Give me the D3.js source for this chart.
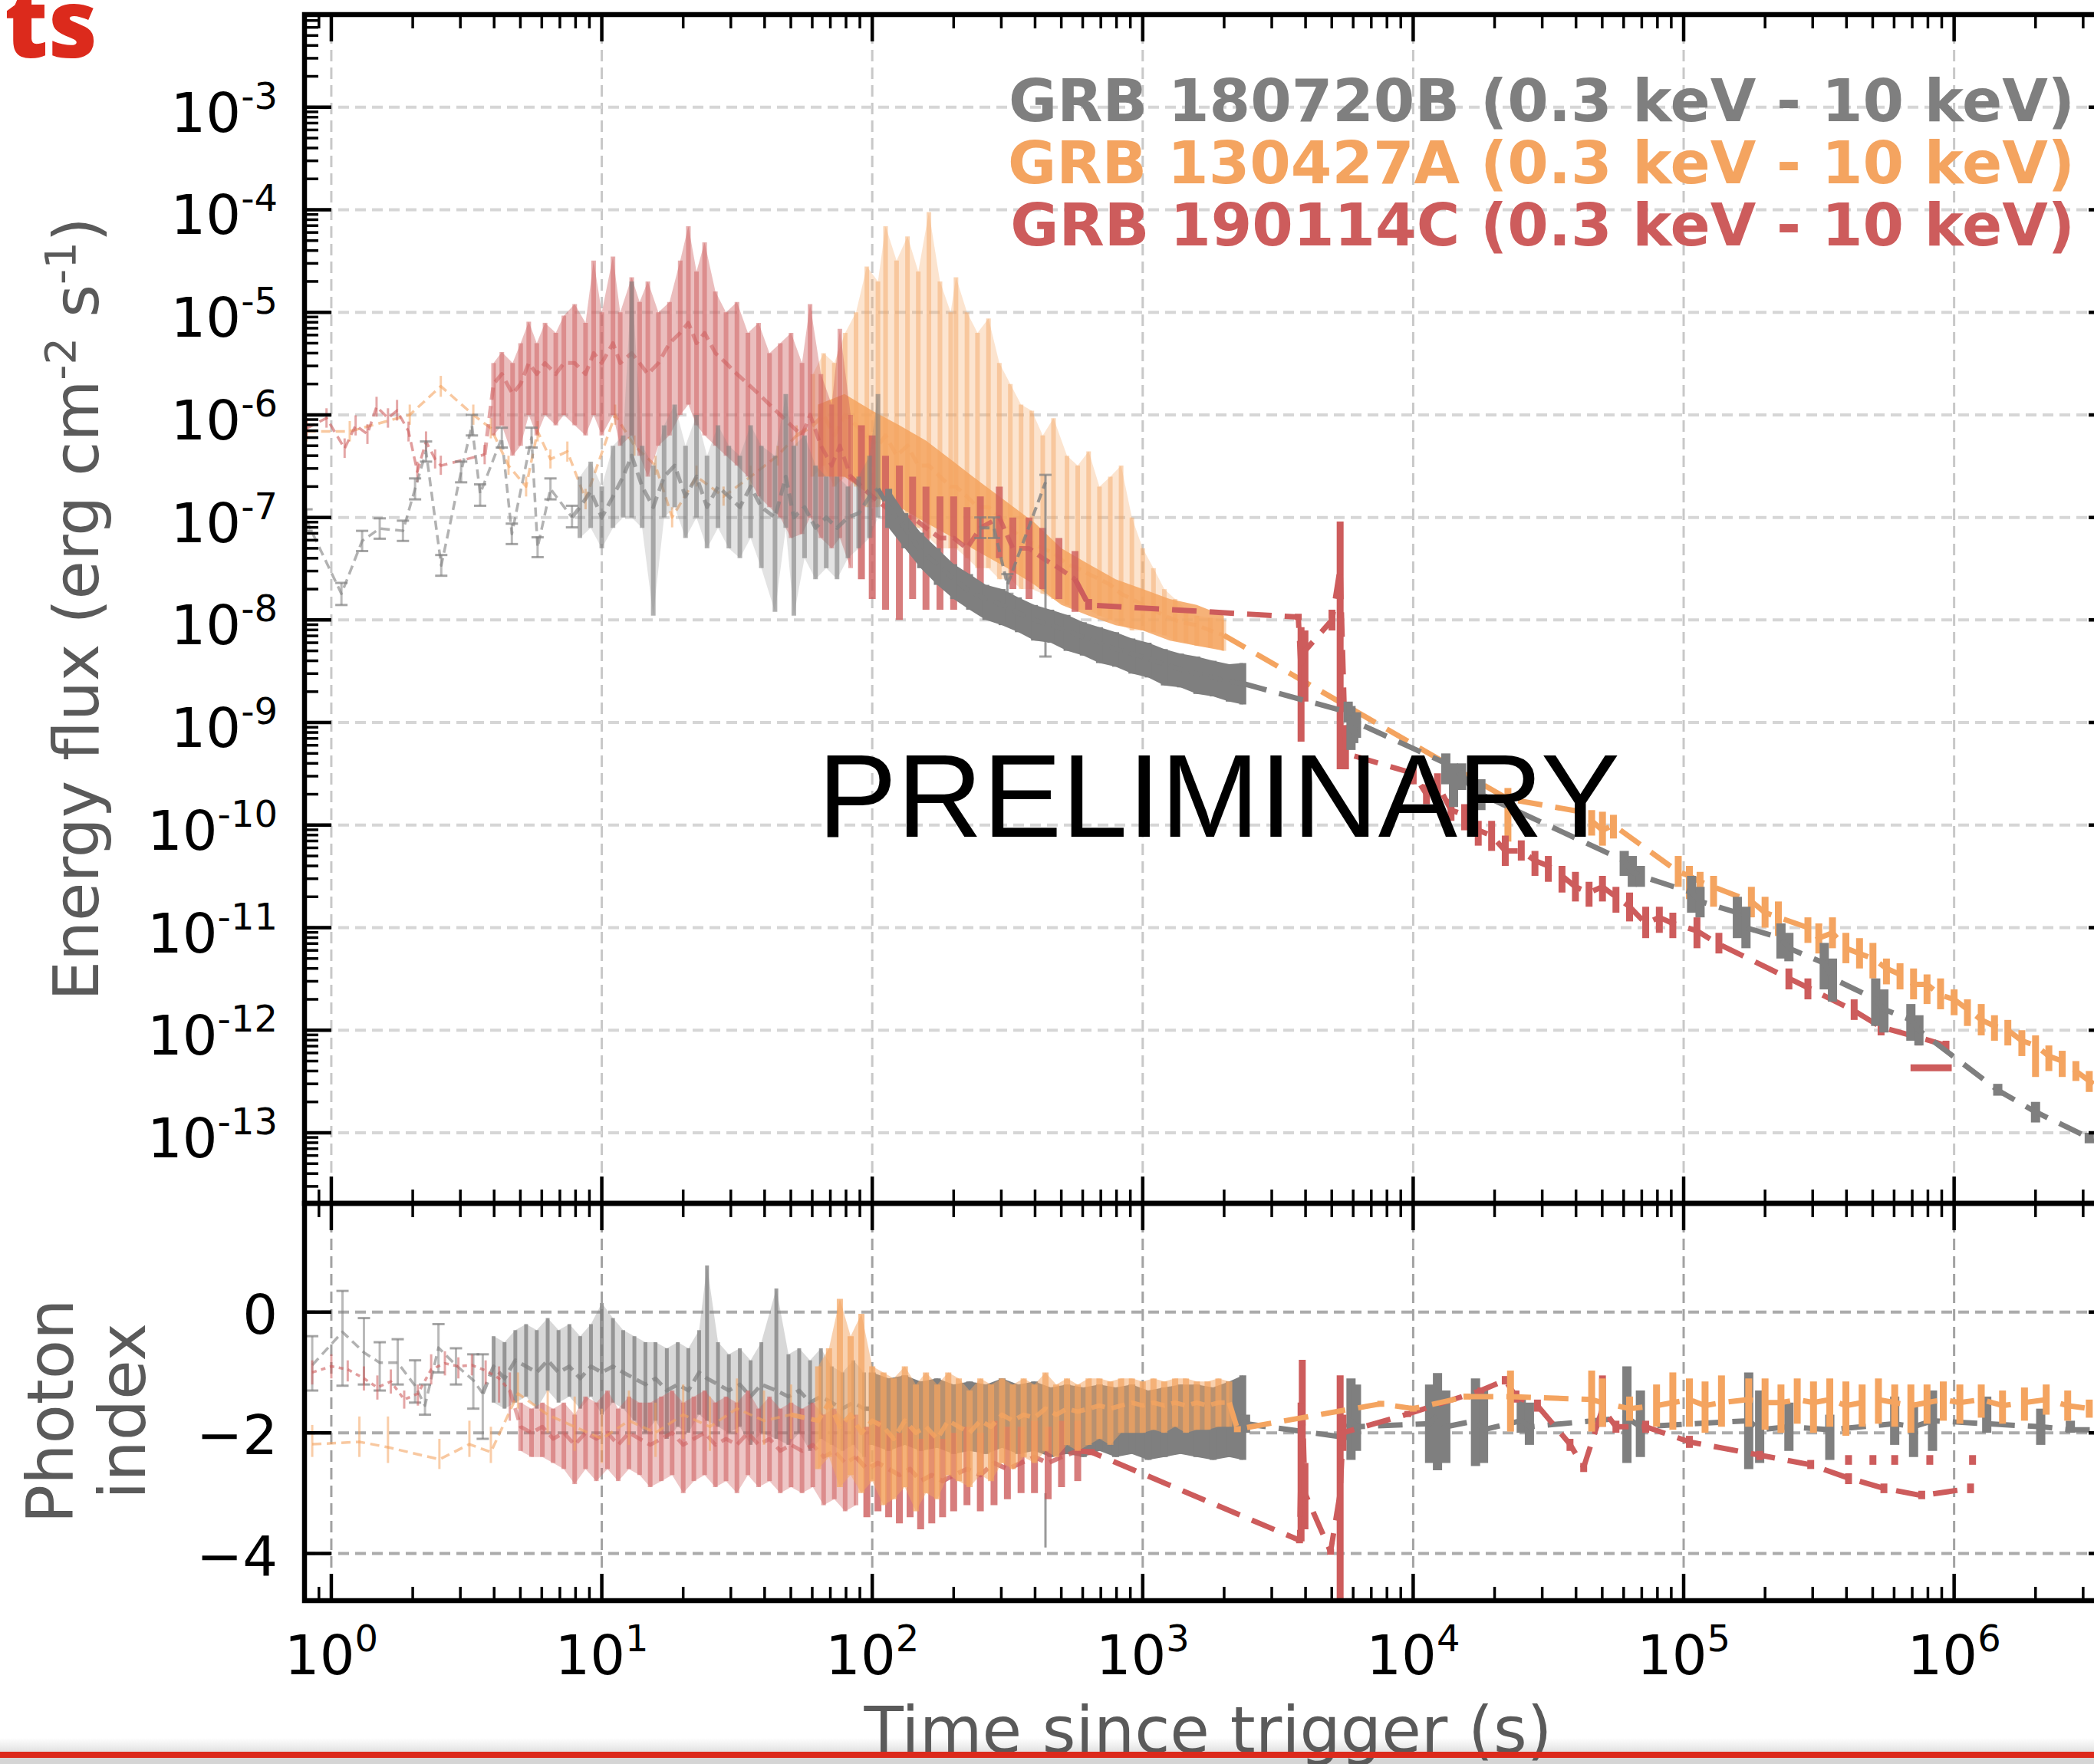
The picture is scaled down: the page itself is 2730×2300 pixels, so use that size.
<!DOCTYPE html>
<html>
<head>
<meta charset="utf-8">
<title>GRB X-ray light curves</title>
<script src="https://cdn.jsdelivr.net/npm/d3@7/dist/d3.min.js"></script>
<style>
  body { margin: 0; background: #ffffff; }
  svg text { font-family: 'DejaVu Sans', sans-serif; }
</style>
</head>
<body>
<svg width="2730" height="2300" id="mainsvg"></svg>
<script>
// ---- axis limits / ticks ----
const timeLimits = [0.796, 3.95e6];
const fluxLimits = [2.05e-14, 8.0e-3];
const indexLimits = [-4.78, 1.8];
const timeTicks = [1, 10, 100, 1e3, 1e4, 1e5, 1e6];
const fluxTicks = [1e-3, 1e-4, 1e-5, 1e-6, 1e-7, 1e-8, 1e-9, 1e-10, 1e-11, 1e-12, 1e-13];
const indexTicks = [-4, -2, 0];
const grbNames = ['GRB 180720B (0.3 keV - 10 keV)', 'GRB 130427A (0.3 keV - 10 keV)', 'GRB 190114C (0.3 keV - 10 keV)'];

// ---- GRB 180720B ----
const grayFluxT = [0.81,1.09,1.3,1.51,1.84,2.04,2.24,2.55,3.02,3.31,3.55,4.27,4.65,5.5,5.79,6.46,7.76,
  8.3,9.1,10,11,12,12.9,14.1,15.5,17,18.6,20.4,22.4,24.5,26.9,29.5,32.4,35.5,38.9,43.7,47.9,51.3,56.2,61.7,67.6,74.1,81.3,89.1,97.7,105,
  115,132,151,174,200,229,263,302,347,398,457,525,603,692,794,912,1047,1202,1380,1585,1820,2089,2344,
  5750,5890,6030,6170,13200,14100,15100,16600,17800,60300,64600,69200,107000,115000,158000,170000,229000,245000,331000,355000,513000,550000,692000,741000,1.45e6,2.0e6,3.16e6,4.17e6];
const grayFlux = [9.3e-8,1.8e-8,5.9e-8,7.8e-8,7.4e-8,1.9e-7,4.4e-7,3.4e-8,2.8e-7,7.9e-7,1.7e-7,6.0e-7,6.9e-8,6.0e-7,5.1e-8,1.9e-7,1.0e-7,
  1.26e-7,1.8e-7,1.0e-7,1.6e-7,2.5e-7,4.0e-7,2.0e-7,1.26e-7,2.5e-7,3.2e-7,1.6e-7,2.5e-7,1.26e-7,2.0e-7,1.6e-7,1.26e-7,2.0e-7,1.26e-7,1.0e-7,2.5e-7,1.0e-7,1.26e-7,7.9e-8,1.0e-7,7.9e-8,1.0e-7,1.1e-7,1.6e-7,1.9e-7,
  1.26e-7,7.9e-8,4.7e-8,3.5e-8,2.5e-8,1.9e-8,1.6e-8,1.4e-8,1.17e-8,1.0e-8,8.9e-9,7.9e-9,6.8e-9,6.0e-9,5.2e-9,4.7e-9,4.2e-9,3.7e-9,3.3e-9,3.0e-9,2.75e-9,2.5e-9,2.4e-9,
  1.26e-9,8.9e-10,7.9e-10,1.0e-9,4.0e-10,2.8e-10,3.2e-10,2.2e-10,2.0e-10,4.5e-11,3.5e-11,3.2e-11,2.2e-11,1.8e-11,1.4e-11,1.0e-11,7.9e-12,6.3e-12,4.5e-12,3.2e-12,2.0e-12,1.6e-12,1.26e-12,1.0e-12,2.6e-13,1.6e-13,8.9e-14,6.3e-14];
const grayFluxLo = [7.4e-8,1.4e-8,4.7e-8,6.2e-8,5.9e-8,1.5e-7,3.5e-7,2.7e-8,2.2e-7,6.3e-7,1.3e-7,4.8e-7,5.5e-8,4.8e-7,4.1e-8,1.5e-7,8.0e-8,
  6.3e-8,7.9e-8,5.0e-8,7.9e-8,1.0e-7,1.0e-7,7.9e-8,1.1e-8,1.0e-7,1.26e-7,6.3e-8,1.0e-7,5.0e-8,7.9e-8,5.0e-8,4.0e-8,6.3e-8,3.2e-8,1.2e-8,7.9e-8,1.1e-8,4.0e-8,2.5e-8,3.2e-8,2.5e-8,4.0e-8,5.0e-8,6.3e-8,1.0e-7,
  7.9e-8,5.0e-8,3.2e-8,2.2e-8,1.6e-8,1.26e-8,1.0e-8,8.9e-9,7.6e-9,6.3e-9,6.0e-9,5.0e-9,4.5e-9,3.8e-9,3.5e-9,3.0e-9,2.75e-9,2.3e-9,2.2e-9,1.9e-9,1.8e-9,1.6e-9,1.5e-9,
  1.0e-9,5.4e-10,6.3e-10,7.1e-10,2.5e-10,1.5e-10,2.2e-10,1.6e-10,1.4e-10,3.2e-11,2.5e-11,2.5e-11,1.4e-11,1.26e-11,7.9e-12,6.3e-12,5.0e-12,4.7e-12,2.5e-12,1.9e-12,1.1e-12,9.5e-13,7.9e-13,7.1e-13,2.3e-13,1.26e-13,7.9e-14,5.6e-14];
const grayFluxHi = [1.2e-7,2.3e-8,7.4e-8,9.8e-8,9.3e-8,2.4e-7,5.5e-7,4.3e-8,3.5e-7,1.0e-6,2.1e-7,7.5e-7,8.7e-8,7.5e-7,6.4e-8,2.4e-7,1.3e-7,
  2.5e-7,3.5e-7,2.0e-7,5.0e-7,6.3e-7,2.0e-5,5.0e-7,3.2e-7,7.9e-7,1.26e-6,5.0e-7,1.0e-6,4.0e-7,7.9e-7,5.0e-7,4.0e-7,7.9e-7,5.0e-7,4.0e-7,1.6e-6,5.0e-7,6.3e-7,3.2e-7,2.5e-7,2.5e-7,2.0e-7,2.5e-7,4.0e-7,1.6e-6,
  1.9e-7,1.1e-7,7.1e-8,5.0e-8,3.5e-8,2.8e-8,2.2e-8,2.0e-8,1.66e-8,1.4e-8,1.26e-8,1.12e-8,9.5e-9,8.5e-9,7.6e-9,6.6e-9,6.0e-9,5.2e-9,4.7e-9,4.4e-9,4.0e-9,3.7e-9,3.8e-9,
  1.6e-9,1.45e-9,1.1e-9,1.26e-9,5.0e-10,4.0e-10,4.0e-10,3.5e-10,2.8e-10,5.6e-11,5.0e-11,4.0e-11,3.2e-11,2.5e-11,2.0e-11,1.6e-11,1.1e-11,8.9e-12,7.1e-12,5.0e-12,3.2e-12,2.5e-12,1.8e-12,1.4e-12,3.0e-13,2.0e-13,1.0e-13,7.1e-14];
const grayWtT = [251, 282, 316, 437];
const grayWtF = [7.9e-8, 7.9e-8, 2.2e-8, 2.2e-7];
const grayWtLo = [6.3e-8, 6.3e-8, 1.8e-8, 4.4e-9];
const grayWtHi = [1.0e-7, 1.0e-7, 2.8e-8, 2.6e-7];

const grayIdxT = [0.85,1.1,1.32,1.51,1.76,2.04,2.22,2.49,2.89,3.35,3.63,
  3.98,4.37,4.79,5.25,5.75,6.31,6.92,7.59,8.32,9.12,10.0,11.0,12.0,13.2,14.5,15.8,17.4,19.1,20.9,22.9,24.5,26.9,29.5,32.4,35.5,38.9,44.2,49.0,53.7,58.9,64.6,70.8,77.6,85.1,93.3,
  100,115,132,151,174,200,229,263,302,347,398,457,525,603,692,794,912,1047,1202,1380,1585,1820,2089,2344,
  2400,5500,5890,6170,11500,12300,13200,17000,18200,25100,26900,61700,69200,174000,191000,245000,347000,603000,708000,832000,1.32e6,2.09e6,2.69e6,3.98e6];
const grayIdx = [-0.88,-0.33,-0.67,-0.84,-0.84,-1.22,-1.55,-0.59,-0.88,-1.13,-1.35,
  -0.9,-1.1,-0.8,-0.9,-1.0,-0.8,-1.0,-0.9,-1.1,-0.9,-1.0,-0.9,-1.0,-1.1,-1.2,-1.1,-1.3,-1.2,-1.3,-1.0,-1.1,-1.2,-1.3,-1.2,-1.4,-1.2,-1.3,-1.4,-1.3,-1.5,-1.4,-1.5,-1.6,-1.5,-1.6,
  -1.6,-1.7,-1.65,-1.75,-1.7,-1.8,-1.75,-1.8,-1.7,-1.8,-1.75,-1.85,-1.8,-1.85,-1.8,-1.85,-1.8,-1.9,-1.85,-1.8,-1.85,-1.9,-1.85,-1.8,
  -1.85,-2.07,-1.8,-1.9,-1.85,-1.7,-1.9,-1.8,-1.95,-1.8,-1.9,-1.75,-1.9,-1.8,-1.95,-1.9,-1.95,-1.85,-1.9,-1.8,-1.85,-1.9,-1.95,-1.95];
const grayIdxLo = [-1.3,-1.22,-1.2,-1.3,-1.2,-1.5,-1.7,-1.0,-1.2,-1.6,-2.1,
  -1.5,-1.6,-1.5,-1.4,-1.6,-1.3,-1.5,-1.4,-1.6,-1.4,-1.7,-1.5,-1.6,-1.8,-2.0,-1.8,-2.1,-1.9,-2.0,-1.7,-1.8,-1.9,-2.0,-1.9,-2.2,-2.0,-2.1,-2.2,-2.0,-2.3,-2.1,-2.2,-2.3,-2.2,-2.4,
  -2.2,-2.3,-2.2,-2.3,-2.25,-2.35,-2.3,-2.35,-2.25,-2.35,-2.3,-2.4,-2.35,-2.4,-2.3,-2.4,-2.35,-2.45,-2.4,-2.35,-2.4,-2.45,-2.4,-2.45,
  -2.0,-2.12,-2.45,-2.3,-2.5,-2.62,-2.5,-2.55,-2.5,-2.0,-2.2,-2.5,-2.4,-2.6,-2.5,-2.3,-2.45,-2.2,-2.4,-2.3,-2.0,-2.2,-2.0,-2.0];
const grayIdxHi = [-0.4,0.35,-0.1,-0.5,-0.45,-0.8,-1.2,-0.2,-0.6,-0.7,-0.7,
  -0.4,-0.5,-0.3,-0.2,-0.3,-0.1,-0.3,-0.2,-0.4,-0.2,0.15,-0.1,-0.3,-0.4,-0.5,-0.5,-0.6,-0.5,-0.6,-0.3,0.77,-0.5,-0.7,-0.6,-0.8,-0.5,0.39,-0.7,-0.6,-0.8,-0.6,-0.9,-1.0,-0.8,-1.0,
  -1.0,-1.1,-1.05,-1.15,-1.1,-1.2,-1.15,-1.2,-1.1,-1.2,-1.15,-1.25,-1.2,-1.25,-1.2,-1.25,-1.2,-1.3,-1.25,-1.2,-1.2,-1.25,-1.15,-1.05,
  -1.7,-2.02,-1.1,-1.2,-1.2,-1.01,-1.3,-1.1,-1.3,-1.4,-1.5,-0.9,-1.3,-1.0,-1.3,-1.5,-1.7,-1.4,-1.5,-1.3,-1.4,-1.6,-1.8,-1.9];
const grayLoneIdxT = [437];
const grayLoneIdx = [-3.4];
const grayLoneIdxLo = [-3.9];
const grayLoneIdxHi = [-3.0];

// ---- GRB 130427A ----
const orangeFluxT = [0.81,1.17,1.95,2.54,3.35,3.89,4.52,5.25,5.79,6.46,7.46,8.71,11.2,13.2,15.8,18.2,22.4,28.2,35.5,44.7,52.5,
  60.3,66.1,72.4,79.4,87.1,95.5,105,112,123,135,148,162,178,195,204,224,245,269,295,324,355,389,427,468,525,575,631,692,759,832,912,1000,1096,1202,1318,1445,1585,1778,1995,
  22400,41700,45700,50100,55000,95500,105000,115000,129000,178000,200000,224000,288000,316000,355000,398000,447000,501000,562000,631000,708000,794000,891000,1.0e6,1.12e6,1.26e6,1.41e6,1.58e6,1.78e6,2.0e6,2.24e6,2.51e6,2.82e6,3.16e6,3.63e6];
const orangeFlux = [6.9e-7,6.9e-7,1.0e-6,1.9e-6,1.0e-6,7.4e-7,3.2e-7,2.0e-7,6.9e-7,3.7e-7,4.4e-7,1.5e-7,1.0e-6,5.0e-7,3.2e-7,1.0e-7,2.5e-7,1.6e-7,2.5e-7,4.0e-7,6.3e-7,
  7.9e-7,1.0e-6,6.3e-7,1.0e-6,7.9e-7,6.3e-7,5.0e-7,6.3e-7,4.0e-7,5.0e-7,3.2e-7,3.2e-7,2.5e-7,2.0e-7,2.0e-7,1.6e-7,1.26e-7,1.26e-7,1.0e-7,7.9e-8,6.3e-8,5.6e-8,5.0e-8,4.5e-8,3.5e-8,3.2e-8,2.8e-8,2.5e-8,2.2e-8,1.8e-8,1.6e-8,1.4e-8,1.26e-8,1.1e-8,1.0e-8,9.3e-9,8.9e-9,7.9e-9,7.1e-9,
  1.8e-10,1.35e-10,1.1e-10,8.9e-11,1.0e-10,3.5e-11,3.2e-11,2.8e-11,2.5e-11,1.8e-11,1.4e-11,1.26e-11,1.0e-11,7.9e-12,8.9e-12,6.3e-12,5.6e-12,5.0e-12,4.0e-12,3.5e-12,2.8e-12,2.8e-12,2.2e-12,2.0e-12,1.6e-12,1.26e-12,1.1e-12,1.0e-12,7.9e-13,7.1e-13,5.6e-13,5.0e-13,4.0e-13,3.2e-13,2.5e-13];
const orangeFluxLo = [5.5e-7,5.5e-7,8.0e-7,1.5e-6,8.0e-7,5.9e-7,2.6e-7,1.6e-7,5.5e-7,3.0e-7,3.5e-7,1.2e-7,8.0e-7,4.0e-7,2.6e-7,8.0e-8,2.0e-7,1.3e-7,2.0e-7,3.2e-7,5.0e-7,
  2.5e-7,3.2e-7,2.0e-7,2.5e-7,2.0e-7,1.26e-7,1.26e-7,1.6e-7,1.0e-7,1.0e-7,7.9e-8,6.3e-8,5.0e-8,5.0e-8,5.0e-8,4.0e-8,3.2e-8,3.2e-8,2.5e-8,2.5e-8,2.0e-8,2.0e-8,1.8e-8,1.6e-8,1.4e-8,1.26e-8,1.26e-8,1.1e-8,1.0e-8,8.9e-9,7.9e-9,7.9e-9,7.6e-9,7.1e-9,6.3e-9,6.0e-9,5.6e-9,5.4e-9,5.0e-9,
  6.9e-11,1.2e-10,7.9e-11,6.3e-11,7.4e-11,2.5e-11,1.9e-11,2.0e-11,1.6e-11,1.26e-11,1.0e-11,8.3e-12,7.1e-12,5.6e-12,6.3e-12,4.5e-12,4.0e-12,3.2e-12,2.8e-12,2.5e-12,2.0e-12,1.8e-12,1.6e-12,1.4e-12,1.1e-12,8.9e-13,7.9e-13,7.1e-13,5.6e-13,3.5e-13,4.0e-13,3.5e-13,3.2e-13,2.5e-13,2.2e-13];
const orangeFluxHi = [8.7e-7,8.7e-7,1.26e-6,2.4e-6,1.26e-6,9.3e-7,4.0e-7,2.5e-7,8.7e-7,4.6e-7,5.5e-7,1.9e-7,1.26e-6,6.3e-7,4.0e-7,1.26e-7,3.2e-7,2.0e-7,3.2e-7,5.0e-7,7.9e-7,
  2.5e-6,4.0e-6,3.2e-6,6.3e-6,1.0e-5,2.8e-5,2.0e-5,6.9e-5,3.2e-5,5.5e-5,2.5e-5,9.5e-5,2.0e-5,1.0e-5,2.2e-5,1.0e-5,6.3e-6,8.7e-6,3.2e-6,2.0e-6,1.26e-6,1.1e-6,6.3e-7,9.3e-7,4.0e-7,3.2e-7,4.4e-7,2.0e-7,2.5e-7,3.2e-7,1.0e-7,5.0e-8,3.2e-8,2.0e-8,1.6e-8,1.26e-8,1.1e-8,1.05e-8,1.0e-8,
  2.3e-10,1.5e-10,1.4e-10,1.35e-10,1.26e-10,5.0e-11,4.0e-11,3.5e-11,3.2e-11,2.5e-11,2.0e-11,1.8e-11,1.26e-11,1.1e-11,1.26e-11,8.9e-12,7.9e-12,7.1e-12,5.0e-12,4.5e-12,4.0e-12,3.5e-12,3.2e-12,2.5e-12,2.0e-12,1.8e-12,1.4e-12,1.26e-12,1.0e-12,8.9e-13,7.1e-13,6.3e-13,5.0e-13,4.0e-13,2.8e-13];
// saturated core of the 130427A burst (lower / upper edge)
const orangeCoreT = [63, 79, 100, 126, 158, 200, 251, 316, 398, 501, 631, 794, 1000, 1259, 1585, 1995];
const orangeCoreLo = [2.5e-7, 2.5e-7, 1.6e-7, 1.26e-7, 8.9e-8, 6.3e-8, 4.5e-8, 3.2e-8, 2.2e-8, 1.4e-8, 1.1e-8, 8.9e-9, 7.9e-9, 6.3e-9, 5.6e-9, 5.0e-9];
const orangeCoreHi = [1.26e-6, 1.6e-6, 1.1e-6, 7.9e-7, 5.6e-7, 3.5e-7, 2.2e-7, 1.4e-7, 8.9e-8, 5.0e-8, 3.5e-8, 2.5e-8, 2.0e-8, 1.6e-8, 1.4e-8, 1.1e-8];

const orangeIdxT = [0.85,1.27,1.62,2.51,3.24,3.89,4.9,6.31,7.94,10,12.6,15.8,20,25.1,31.6,39.8,50.1,
  63.1,69.2,75.9,83.2,91.2,100,110,120,132,145,158,174,191,209,229,251,275,302,331,363,398,437,479,525,575,631,692,759,832,912,1000,1096,1202,1318,1445,1585,1738,1905,2089,
  2239,7590,10000,15800,22900,45700,50100,63100,79400,91200,105000,120000,138000,174000,200000,229000,263000,302000,347000,398000,457000,525000,603000,692000,794000,912000,1.05e6,1.26e6,1.51e6,1.82e6,2.19e6,2.63e6,3.16e6,3.63e6];
const orangeIdx = [-2.19,-2.15,-2.24,-2.44,-2.19,-2.32,-1.35,-1.7,-1.9,-2.1,-1.8,-2.0,-1.7,-1.9,-1.6,-1.8,-1.7,
  -1.8,-1.5,-1.9,-1.7,-2.0,-1.8,-1.9,-2.1,-1.8,-2.0,-1.9,-2.1,-1.8,-1.9,-2.0,-1.8,-1.9,-1.7,-1.8,-1.7,-1.75,-1.6,-1.7,-1.6,-1.65,-1.6,-1.55,-1.6,-1.55,-1.5,-1.55,-1.5,-1.55,-1.5,-1.55,-1.5,-1.55,-1.5,-1.5,
  -1.94,-1.52,-1.6,-1.4,-1.4,-1.45,-1.5,-1.6,-1.55,-1.5,-1.45,-1.55,-1.5,-1.45,-1.5,-1.5,-1.45,-1.5,-1.45,-1.55,-1.5,-1.45,-1.5,-1.55,-1.5,-1.45,-1.5,-1.45,-1.55,-1.5,-1.45,-1.55,-1.6,-1.5];
const orangeIdxLo = [-2.4,-2.4,-2.5,-2.6,-2.4,-2.5,-1.6,-2.0,-2.3,-2.5,-2.2,-2.4,-2.1,-2.3,-2.0,-2.2,-2.1,
  -2.6,-2.4,-2.9,-2.7,-3.0,-2.8,-3.2,-3.1,-2.9,-3.3,-3.0,-3.1,-2.7,-2.8,-2.9,-2.7,-2.8,-2.5,-2.6,-2.4,-2.5,-2.3,-2.4,-2.2,-2.3,-2.2,-2.1,-2.2,-2.0,-2.0,-2.0,-1.95,-2.0,-1.9,-2.0,-1.95,-1.95,-1.9,-1.9,
  -1.99,-1.57,-1.65,-1.45,-1.98,-1.98,-1.9,-1.8,-1.9,-1.95,-1.9,-2.0,-1.9,-1.9,-1.95,-2.0,-1.85,-2.0,-1.9,-2.05,-1.9,-1.85,-1.9,-2.0,-1.85,-1.8,-1.85,-1.75,-1.85,-1.8,-1.7,-1.8,-1.75,-1.55];
const orangeIdxHi = [-1.87,-1.73,-1.73,-2.1,-1.8,-1.9,-1.0,-1.3,-1.4,-1.6,-1.3,-1.5,-1.2,-1.4,-1.1,-1.3,-1.2,
  -0.9,-0.6,0.22,-0.4,-0.03,-0.9,-1.0,-1.1,-0.9,-1.2,-1.0,-1.2,-1.0,-1.1,-1.3,-1.1,-1.2,-1.1,-1.2,-1.1,-1.2,-1.0,-1.2,-1.1,-1.2,-1.1,-1.1,-1.15,-1.1,-1.1,-1.15,-1.1,-1.15,-1.1,-1.1,-1.15,-1.15,-1.1,-1.15,
  -1.89,-1.47,-1.55,-1.35,-0.97,-0.97,-1.1,-1.4,-1.2,-1.0,-1.1,-1.15,-1.05,-1.1,-1.1,-1.2,-1.1,-1.15,-1.1,-1.15,-1.2,-1.1,-1.2,-1.2,-1.2,-1.15,-1.2,-1.2,-1.3,-1.25,-1.2,-1.3,-1.45,-1.45];

// ---- GRB 190114C ----
const redFluxT = [0.81,0.96,1.12,1.23,1.36,1.47,1.62,1.75,1.93,2.08,2.24,2.42,2.54,3.69,
  3.98,4.27,4.68,5.01,5.37,5.75,6.17,6.76,7.24,7.94,8.71,9.33,10.0,11.0,11.7,12.9,13.8,14.8,16.2,17.8,19.5,20.9,22.4,24.0,26.3,28.8,31.6,34.7,38.0,41.7,45.7,50.1,55.0,58.9,64.6,70.8,75.9,83.2,
  91.2,100,112,126,141,158,178,200,224,251,295,331,380,427,490,562,
  631,3760,3850,3980,5010,5370,5620,
  10000,11200,12300,13800,15500,17400,19500,21900,25100,28200,31600,35500,39800,44700,50100,56200,63100,72400,81300,91200,112000,135000,
  245000,288000,427000,537000,741000,933000];
const redFlux = [7.4e-7,9.3e-7,4.7e-7,7.9e-7,6.5e-7,1.2e-6,9.3e-7,1.1e-6,6.9e-7,2.8e-7,5.5e-7,3.7e-7,3.2e-7,4.1e-7,
  2.0e-6,2.5e-6,1.6e-6,2.0e-6,3.2e-6,2.5e-6,3.2e-6,2.5e-6,3.2e-6,3.2e-6,2.5e-6,4.0e-6,3.2e-6,5.0e-6,3.2e-6,4.0e-6,3.2e-6,2.5e-6,3.2e-6,5.0e-6,6.3e-6,7.9e-6,5.0e-6,6.3e-6,4.0e-6,3.2e-6,2.5e-6,2.0e-6,1.6e-6,1.26e-6,1.0e-6,7.9e-7,6.3e-7,1.0e-6,5.0e-7,3.2e-7,5.0e-7,2.5e-7,
  2.0e-7,1.6e-7,1.26e-7,1.0e-7,1.0e-7,7.9e-8,6.3e-8,6.3e-8,5.0e-8,7.9e-8,1.0e-7,5.0e-8,5.0e-8,4.0e-8,3.2e-8,2.5e-8,
  1.4e-8,1.07e-8,3.2e-9,5.0e-9,1.0e-8,3.2e-8,5.0e-10,
  3.2e-10,2.0e-10,2.5e-10,1.4e-10,1.26e-10,8.9e-11,7.9e-11,5.6e-11,5.6e-11,4.5e-11,4.0e-11,3.2e-11,2.5e-11,2.2e-11,2.5e-11,2.0e-11,1.6e-11,1.1e-11,1.26e-11,1.1e-11,9.3e-12,6.9e-12,
  3.2e-12,2.6e-12,1.55e-12,1.07e-12,8.5e-13,7.1e-13];
const redFluxLo = [6.0e-7,7.5e-7,3.8e-7,6.3e-7,5.2e-7,9.6e-7,7.5e-7,8.8e-7,5.5e-7,2.2e-7,4.4e-7,3.0e-7,2.6e-7,3.3e-7,
  6.3e-7,7.9e-7,4.0e-7,5.0e-7,1.0e-6,6.3e-7,1.0e-6,7.9e-7,1.0e-6,7.9e-7,6.3e-7,1.0e-6,6.3e-7,1.0e-6,5.0e-7,6.3e-7,4.0e-7,2.5e-7,5.0e-7,6.3e-7,1.0e-6,1.26e-6,7.9e-7,6.3e-7,5.0e-7,4.0e-7,3.2e-7,2.5e-7,1.6e-7,1.26e-7,1.0e-7,6.3e-8,6.9e-8,1.0e-7,6.3e-8,5.0e-8,6.3e-8,3.2e-8,
  2.5e-8,1.6e-8,1.26e-8,1.0e-8,1.6e-8,1.26e-8,1.26e-8,1.26e-8,1.6e-8,2.0e-8,4.0e-8,2.0e-8,1.6e-8,2.0e-8,1.6e-8,1.2e-8,
  1.26e-8,1.0e-8,6.5e-10,1.6e-9,7.9e-9,3.5e-10,3.5e-10,
  2.5e-10,1.6e-10,1.9e-10,1.1e-10,8.9e-11,6.3e-11,5.6e-11,4.0e-11,4.5e-11,3.2e-11,2.8e-11,2.2e-11,1.8e-11,1.6e-11,1.8e-11,1.4e-11,1.15e-11,7.9e-12,8.9e-12,7.9e-12,6.3e-12,5.6e-12,
  2.5e-12,2.0e-12,1.26e-12,8.9e-13,7.1e-13,6.3e-13];
const redFluxHi = [9.3e-7,1.16e-6,5.9e-7,9.9e-7,8.1e-7,1.5e-6,1.16e-6,1.4e-6,8.6e-7,3.5e-7,6.9e-7,4.6e-7,4.0e-7,5.1e-7,
  3.2e-6,4.1e-6,3.2e-6,5.0e-6,8.1e-6,5.0e-6,7.9e-6,6.3e-6,9.3e-6,1.2e-5,7.9e-6,3.2e-5,1.0e-5,3.5e-5,1.0e-5,2.2e-5,1.26e-5,2.0e-5,1.0e-5,1.26e-5,3.2e-5,6.9e-5,2.5e-5,4.8e-5,1.6e-5,1.0e-5,1.26e-5,6.3e-6,7.9e-6,4.0e-6,5.0e-6,6.3e-6,3.2e-6,1.2e-5,2.5e-6,1.26e-6,6.9e-6,1.0e-6,
  7.9e-7,6.3e-7,4.0e-7,3.2e-7,2.5e-7,2.0e-7,1.6e-7,1.6e-7,1.26e-7,1.6e-7,2.0e-7,1.0e-7,1.0e-7,7.9e-8,6.3e-8,4.7e-8,
  1.6e-8,1.15e-8,8.5e-9,7.9e-9,1.26e-8,9.1e-8,7.9e-10,
  4.0e-10,2.5e-10,3.2e-10,1.8e-10,1.6e-10,1.1e-10,1.1e-10,7.9e-11,7.1e-11,5.6e-11,5.0e-11,4.0e-11,3.5e-11,2.8e-11,3.2e-11,2.5e-11,2.2e-11,1.6e-11,1.6e-11,1.4e-11,1.26e-11,8.9e-12,
  4.0e-12,3.2e-12,2.0e-12,1.26e-12,1.0e-12,7.9e-13];
const redBarT = [8.3e5];
const redBarTLo = [6.9e5];
const redBarTHi = [9.8e5];
const redBarF = [4.3e-13];

const redIdxT = [0.85,1.0,1.15,1.32,1.48,1.66,1.86,2.09,2.34,2.63,2.95,3.31,3.72,4.17,4.57,
  5.01,5.5,6.03,6.61,7.24,7.94,8.71,9.55,10.5,11.5,12.6,13.8,15.1,16.6,18.2,20.0,21.9,24.0,26.3,28.8,31.6,34.7,38.0,41.7,45.7,50.1,55.0,60.3,66.1,72.4,79.4,87.1,
  95.5,105,115,126,138,151,166,182,200,224,251,282,316,355,398,447,501,575,
  646,3800,3850,3890,3980,4950,5370,5500,9550,17800,21900,24000,28800,38000,42700,50100,56200,72400,105000,191000,295000,407000,550000,759000,1.15e6];
const redIdx = [-1.0,-0.9,-0.95,-1.1,-1.25,-1.15,-1.45,-1.35,-0.95,-0.85,-0.9,-0.88,-0.97,-1.1,-1.3,
  -1.9,-2.0,-1.9,-2.1,-2.0,-2.2,-2.0,-2.1,-2.0,-2.2,-2.0,-2.1,-2.2,-2.1,-2.0,-2.2,-2.1,-2.0,-2.2,-2.1,-2.2,-2.0,-2.2,-2.1,-2.3,-2.2,-2.3,-2.2,-2.4,-2.3,-2.5,-2.4,
  -2.6,-2.5,-2.6,-2.7,-2.6,-2.8,-2.7,-2.8,-2.7,-2.6,-2.7,-2.5,-2.6,-2.5,-2.4,-2.5,-2.4,-2.3,
  -2.32,-3.78,-2.5,-1.5,-3.0,-3.97,-3.0,-2.0,-1.69,-1.30,-1.13,-1.4,-1.55,-2.19,-2.57,-1.6,-1.9,-1.90,-2.15,-2.37,-2.53,-2.75,-2.92,-3.04,-2.92];
const redIdxLo = [-1.2,-1.1,-1.15,-1.3,-1.45,-1.35,-1.6,-1.55,-1.2,-1.05,-1.1,-1.05,-1.2,-1.5,-1.8,
  -2.3,-2.4,-2.4,-2.5,-2.6,-2.85,-2.6,-2.8,-2.6,-2.8,-2.6,-2.7,-2.9,-2.8,-2.7,-3.0,-2.8,-2.7,-2.9,-2.8,-3.0,-2.7,-2.9,-2.8,-3.0,-2.9,-3.0,-2.9,-3.2,-3.1,-3.3,-3.2,
  -3.4,-3.3,-3.4,-3.5,-3.4,-3.6,-3.5,-3.4,-3.3,-3.2,-3.3,-3.2,-3.1,-3.0,-3.0,-3.1,-2.9,-2.8,
  -2.37,-3.83,-3.8,-2.2,-3.6,-4.02,-5.2,-2.3,-1.74,-1.35,-1.2,-1.5,-1.65,-2.3,-2.65,-1.9,-2.0,-2.0,-2.25,-2.45,-2.6,-2.85,-3.0,-3.1,-3.0];
const redIdxHi = [-0.8,-0.7,-0.8,-0.9,-1.05,-0.95,-1.3,-1.2,-0.7,-0.65,-0.75,-0.7,-0.8,-0.9,-1.0,
  -1.5,-1.6,-1.5,-1.6,-1.5,-1.7,-1.4,-1.5,-1.3,-1.6,-1.4,-1.5,-1.5,-1.4,-1.3,-1.5,-1.4,-1.3,-1.5,-1.4,-1.5,-1.3,-1.6,-1.4,-1.6,-1.5,-1.6,-1.5,-1.7,-1.6,-1.8,-1.7,
  -1.9,-1.8,-2.0,-2.0,-1.9,-2.1,-2.0,-2.1,-2.0,-1.9,-2.0,-1.8,-1.9,-1.9,-1.8,-1.9,-1.8,-1.8,
  -2.27,-3.73,-1.5,-0.79,-2.5,-3.92,-1.05,-1.7,-1.64,-1.25,-1.06,-1.3,-1.45,-2.1,-2.5,-1.05,-1.8,-1.8,-2.05,-2.3,-2.45,-2.67,-2.84,-2.96,-2.84];
const redDotT = [407000, 501000, 603000, 813000, 1.17e6];
const redDotIdx = [-2.45, -2.45, -2.45, -2.45, -2.45];
const redDotLo = [-2.53, -2.53, -2.53, -2.53, -2.53];
const redDotHi = [-2.37, -2.37, -2.37, -2.37, -2.37];

// ---- drawing ----
const svg = d3.select('svg');
const width = +svg.attr('width');
const height = +svg.attr('height');

const L = 397, R = 2758, T = 19, M = 1569, B = 2087;
const x = d3.scaleLog().domain(timeLimits).range([L, R]);
const yF = d3.scaleLog().domain(fluxLimits).range([M, T]);
const yI = d3.scaleLinear().domain(indexLimits).range([B, M]);

const colors = {gray: '#7f7f7f', orange: '#f4a460', red: '#cd5c5c'};

svg.append('rect').attr('width', width).attr('height', height).attr('fill', '#ffffff');

const defs = svg.append('defs');
defs.append('clipPath').attr('id', 'clipTop').append('rect')
  .attr('x', L).attr('y', T).attr('width', R - L).attr('height', M - T);
defs.append('clipPath').attr('id', 'clipBot').append('rect')
  .attr('x', L).attr('y', M).attr('width', R - L).attr('height', B - M);
const shade = defs.append('linearGradient').attr('id', 'shade').attr('x1', 0).attr('x2', 0).attr('y1', 0).attr('y2', 1);
shade.append('stop').attr('offset', '0%').attr('stop-color', '#ffffff');
shade.append('stop').attr('offset', '100%').attr('stop-color', '#e2e2e2');

// grid lines
const grid = svg.append('g');
function gridLines(yScale, ticks, y0, y1, hColor, vColor) {
  grid.append('g').selectAll('line').data(timeTicks).join('line')
    .attr('x1', d => x(d)).attr('x2', d => x(d)).attr('y1', y0).attr('y2', y1)
    .attr('stroke', vColor).attr('stroke-width', 3).attr('stroke-dasharray', '15,8');
  grid.append('g').selectAll('line').data(ticks).join('line')
    .attr('x1', L).attr('x2', R).attr('y1', d => yScale(d)).attr('y2', d => yScale(d))
    .attr('stroke', hColor).attr('stroke-width', 4).attr('stroke-dasharray', '14,8');
}
gridLines(yF, fluxTicks, T, M, '#d6d6d6', '#c8c8c8');
gridLines(yI, indexTicks, M, B, '#ababab', '#a2a2a2');

// per-kind styles for error bars and connecting dashed lines
const styles = {
  thin:  {bar: 3,  barOp: 0.55, line: 3.5, lineOp: 0.6,  dash: '12,7'},
  light: {bar: 6,  barOp: 0.5,  line: 5,   lineOp: 0.55, dash: '16,8'},
  mid:   {bar: 9,  barOp: 0.8,  line: 6,   lineOp: 0.8,  dash: '18,9'},
  dense: {bar: 9,  barOp: 1,    line: 6,   lineOp: 1,    dash: '18,9'},
  late:  {bar: 9,  barOp: 1,    line: 7,   lineOp: 1,    dash: '32,17'}
};

function drawSeries(g, y, s) {
  const pts = s.t.map((t, i) => ({
    t, v: s.v[i], lo: s.lo[i], hi: s.hi[i],
    kind: s.kinds.find(k => t < k[0])[1]
  }));
  const st = k => Object.assign({}, styles[k], (s.over || {})[k]);
  const grp = g.append('g');

  // filled bands: dense stretches always, other kinds when asked for
  const bandOp = Object.assign({dense: 1}, s.band || {});
  const area = d3.area().x(d => x(d.t)).y0(d => y(d.lo)).y1(d => y(d.hi));
  Object.keys(bandOp).forEach(kind => {
    const runs = [];
    let run = [];
    pts.forEach(p => {
      if (p.kind === kind) run.push(p);
      else { if (run.length > 1) runs.push(run); run = []; }
    });
    if (run.length > 1) runs.push(run);
    grp.append('g').selectAll('path').data(runs).join('path')
      .attr('d', area).attr('fill', s.color).attr('fill-opacity', bandOp[kind]);
  });
  if (s.bandOnly) return;

  // vertical error bars
  grp.append('g').selectAll('line').data(pts).join('line')
    .attr('x1', d => x(d.t)).attr('x2', d => x(d.t))
    .attr('y1', d => y(d.lo)).attr('y2', d => y(d.hi))
    .attr('stroke', s.color)
    .attr('stroke-width', d => st(d.kind).bar)
    .attr('stroke-opacity', d => st(d.kind).barOp);

  if (s.caps) {
    const capPts = pts.filter(d => d.kind === 'thin');
    ['lo', 'hi'].forEach(k => {
      grp.append('g').selectAll('line').data(capPts).join('line')
        .attr('x1', d => x(d.t) - 8).attr('x2', d => x(d.t) + 8)
        .attr('y1', d => y(d[k])).attr('y2', d => y(d[k]))
        .attr('stroke', s.color).attr('stroke-width', 3).attr('stroke-opacity', 0.7);
    });
  }

  if (s.tLo) {
    grp.append('g').selectAll('line').data(pts).join('line')
      .attr('x1', (d, i) => x(s.tLo[i])).attr('x2', (d, i) => x(s.tHi[i]))
      .attr('y1', d => y(d.v)).attr('y2', d => y(d.v))
      .attr('stroke', s.color).attr('stroke-width', 9);
  }

  if (!s.noLine) {
    const runs = [];
    pts.forEach((p, i) => {
      const last = runs[runs.length - 1];
      if (last && last.kind === p.kind) last.pts.push(p);
      else runs.push({kind: p.kind, pts: i ? [pts[i - 1], p] : [p]});
    });
    const line = d3.line().x(d => x(d.t)).y(d => y(d.v));
    grp.append('g').selectAll('path').data(runs.filter(r => r.pts.length > 1)).join('path')
      .attr('d', r => line(r.pts))
      .attr('fill', 'none')
      .attr('stroke', s.color)
      .attr('stroke-width', r => st(r.kind).line)
      .attr('stroke-opacity', r => st(r.kind).lineOp)
      .attr('stroke-dasharray', r => st(r.kind).dash)
      .attr('stroke-linejoin', 'round');
  }
}

const topG = svg.append('g').attr('clip-path', 'url(#clipTop)');
const botG = svg.append('g').attr('clip-path', 'url(#clipBot)');

const fluxSeries = [
  {t: orangeCoreT, v: orangeCoreLo, lo: orangeCoreLo, hi: orangeCoreHi, color: colors.orange,
   kinds: [[Infinity, 'core']], band: {core: 0.85}, bandOnly: true},
  {t: orangeFluxT, v: orangeFlux, lo: orangeFluxLo, hi: orangeFluxHi, color: colors.orange,
   kinds: [[58, 'thin'], [2100, 'light'], [Infinity, 'late']],
   band: {light: 0.3}, over: {light: {barOp: 0.45}}},
  {t: redFluxT, v: redFlux, lo: redFluxLo, hi: redFluxHi, color: colors.red,
   kinds: [[3.8, 'thin'], [88, 'light'], [600, 'mid'], [Infinity, 'late']],
   band: {light: 0.4}},
  {t: redBarT, v: redBarF, lo: redBarF, hi: redBarF, tLo: redBarTLo, tHi: redBarTHi, color: colors.red,
   kinds: [[Infinity, 'late']], noLine: true},
  {t: grayWtT, v: grayWtF, lo: grayWtLo, hi: grayWtHi, color: colors.gray, caps: true,
   kinds: [[Infinity, 'thin']], over: {thin: {barOp: 0.8, lineOp: 0.8, line: 4}}},
  {t: grayFluxT, v: grayFlux, lo: grayFluxLo, hi: grayFluxHi, color: colors.gray, caps: true,
   kinds: [[8, 'thin'], [106, 'light'], [2400, 'dense'], [Infinity, 'late']],
   band: {light: 0.22}, over: {light: {barOp: 0.6, lineOp: 0.65}, late: {bar: 12}}}
];
fluxSeries.forEach(s => drawSeries(topG, yF, s));

const indexSeries = [
  {t: grayIdxT, v: grayIdx, lo: grayIdxLo, hi: grayIdxHi, color: colors.gray, caps: true,
   kinds: [[3.9, 'thin'], [96, 'light'], [2380, 'dense'], [Infinity, 'late']],
   band: {light: 0.3}, over: {light: {bar: 5, barOp: 0.75, lineOp: 0.7}, late: {bar: 12}}},
  {t: grayLoneIdxT, v: grayLoneIdx, lo: grayLoneIdxLo, hi: grayLoneIdxHi, color: colors.gray,
   kinds: [[Infinity, 'thin']], noLine: true, over: {thin: {barOp: 0.8}}},
  {t: redIdxT, v: redIdx, lo: redIdxLo, hi: redIdxHi, color: colors.red,
   kinds: [[4.8, 'thin'], [90, 'light'], [620, 'mid'], [Infinity, 'late']],
   band: {light: 0.35}, over: {thin: {dash: '6,6'}, light: {barOp: 0.55}}},
  {t: redDotT, v: redDotIdx, lo: redDotLo, hi: redDotHi, color: colors.red,
   kinds: [[Infinity, 'late']], noLine: true},
  {t: orangeIdxT, v: orangeIdx, lo: orangeIdxLo, hi: orangeIdxHi, color: colors.orange,
   kinds: [[58, 'thin'], [2150, 'mid'], [Infinity, 'late']],
   band: {mid: 0.5}, over: {mid: {bar: 8, barOp: 0.7}}}
];
indexSeries.forEach(s => drawSeries(botG, yI, s));

// ---- spines and ticks ----
const axes = svg.append('g');
const xMinor = [];
for (let e = -1; e <= 6; e++) for (let k = 2; k <= 9; k++) {
  const v = k * Math.pow(10, e);
  if (v > timeLimits[0] && v < timeLimits[1]) xMinor.push(v);
}
const fMinor = [];
for (let e = -14; e <= -3; e++) for (let k = 2; k <= 9; k++) {
  const v = k * Math.pow(10, e);
  if (v > fluxLimits[0] && v < fluxLimits[1]) fMinor.push(v);
}
function hTicks(y0, dir) {
  axes.append('g').selectAll('line').data(timeTicks).join('line')
    .attr('x1', d => x(d)).attr('x2', d => x(d)).attr('y1', y0).attr('y2', y0 + dir * 35)
    .attr('stroke', '#000').attr('stroke-width', 4.5);
  axes.append('g').selectAll('line').data(xMinor).join('line')
    .attr('x1', d => x(d)).attr('x2', d => x(d)).attr('y1', y0).attr('y2', y0 + dir * 18)
    .attr('stroke', '#000').attr('stroke-width', 3.5);
}
hTicks(T, 1); hTicks(M, -1); hTicks(M, 1); hTicks(B, -1);
function vTicks(yScale, majors, minors, x0, dir) {
  axes.append('g').selectAll('line').data(majors).join('line')
    .attr('x1', x0).attr('x2', x0 + dir * 35).attr('y1', d => yScale(d)).attr('y2', d => yScale(d))
    .attr('stroke', '#000').attr('stroke-width', 4.5);
  axes.append('g').selectAll('line').data(minors).join('line')
    .attr('x1', x0).attr('x2', x0 + dir * 18).attr('y1', d => yScale(d)).attr('y2', d => yScale(d))
    .attr('stroke', '#000').attr('stroke-width', 3.5);
}
vTicks(yF, fluxTicks, fMinor, L, 1); vTicks(yF, fluxTicks, fMinor, R, -1);
vTicks(yI, indexTicks, [], L, 1); vTicks(yI, indexTicks, [], R, -1);

axes.append('rect').attr('x', L).attr('y', T).attr('width', R - L).attr('height', M - T)
  .attr('fill', 'none').attr('stroke', '#000').attr('stroke-width', 6.5);
axes.append('rect').attr('x', L).attr('y', M).attr('width', R - L).attr('height', B - M)
  .attr('fill', 'none').attr('stroke', '#000').attr('stroke-width', 6.5);

// ---- tick labels ----
const labels = svg.append('g');
function powLabel(sel, exp) {
  sel.append('tspan').text('10');
  sel.append('tspan').attr('dy', -30).attr('font-size', 48).text(exp);
}
labels.selectAll('text.xt').data(timeTicks).join('text').attr('class', 'xt')
  .attr('x', d => x(d)).attr('y', 2183).attr('text-anchor', 'middle')
  .attr('font-size', 72).attr('fill', '#000')
  .each(function (d) { powLabel(d3.select(this), String(Math.round(Math.log10(d)))); });
labels.selectAll('text.yt').data(fluxTicks).join('text').attr('class', 'yt')
  .attr('x', 362).attr('y', d => yF(d) + 32).attr('text-anchor', 'end')
  .attr('font-size', 72).attr('fill', '#000')
  .each(function (d) { powLabel(d3.select(this), String(Math.round(Math.log10(d)))); });
labels.selectAll('text.it').data(indexTicks).join('text').attr('class', 'it')
  .attr('x', 362).attr('y', d => yI(d) + 28).attr('text-anchor', 'end')
  .attr('font-size', 72).attr('fill', '#000')
  .text(d => d < 0 ? '\u2212' + Math.abs(d) : String(d));

// axis titles
const yTitle = labels.append('text').attr('transform', 'translate(128,794) rotate(-90)')
  .attr('text-anchor', 'middle').attr('font-size', 82).attr('fill', '#5a5a5a');
yTitle.append('tspan').text('Energy flux (erg cm');
yTitle.append('tspan').attr('dy', -30).attr('font-size', 56).text('-2');
yTitle.append('tspan').attr('dy', 30).text(' s');
yTitle.append('tspan').attr('dy', -30).attr('font-size', 56).text('-1');
yTitle.append('tspan').attr('dy', 30).text(')');
labels.append('text').attr('transform', 'translate(95,1840) rotate(-90)')
  .attr('text-anchor', 'middle').attr('font-size', 84).attr('fill', '#5a5a5a').text('Photon');
labels.append('text').attr('transform', 'translate(189,1840) rotate(-90)')
  .attr('text-anchor', 'middle').attr('font-size', 84).attr('fill', '#5a5a5a').text('index');

// legend text
const legendColors = [colors.gray, colors.orange, colors.red];
labels.selectAll('text.leg').data(grbNames).join('text').attr('class', 'leg')
  .attr('x', 2705).attr('y', (d, i) => 158 + i * 81).attr('text-anchor', 'end')
  .attr('font-size', 77).attr('font-weight', 'bold')
  .attr('fill', (d, i) => legendColors[i]).text(d => d);

// watermark
labels.append('text').attr('x', 1066).attr('y', 1091)
  .style('font-family', "'Liberation Sans', Arial, sans-serif")
  .attr('font-size', 154).attr('textLength', 1046).attr('lengthAdjust', 'spacingAndGlyphs')
  .attr('fill', '#000').text('PRELIMINARY');

// slide remnants: title fragment and bottom rule
svg.append('text').attr('x', 127).attr('y', 75).attr('text-anchor', 'end')
  .style('font-family', "'Open Sans', sans-serif").attr('font-weight', 800)
  .attr('font-size', 124).attr('fill', '#dc2a1c').text('ts');
svg.append('rect').attr('x', 0).attr('y', 2266).attr('width', width).attr('height', 18).attr('fill', 'url(#shade)');
svg.append('rect').attr('x', 0).attr('y', 2292).attr('width', width).attr('height', 8).attr('fill', '#d5d5d5');
labels.raise();
svg.append('text').attr('x', 1575).attr('y', 2285).attr('text-anchor', 'middle')
  .attr('font-size', 84).attr('fill', '#5a5a5a').text('Time since trigger (s)');
svg.append('rect').attr('x', 0).attr('y', 2284).attr('width', width).attr('height', 8).attr('fill', '#dc2a1c');
</script>
</body>
</html>
